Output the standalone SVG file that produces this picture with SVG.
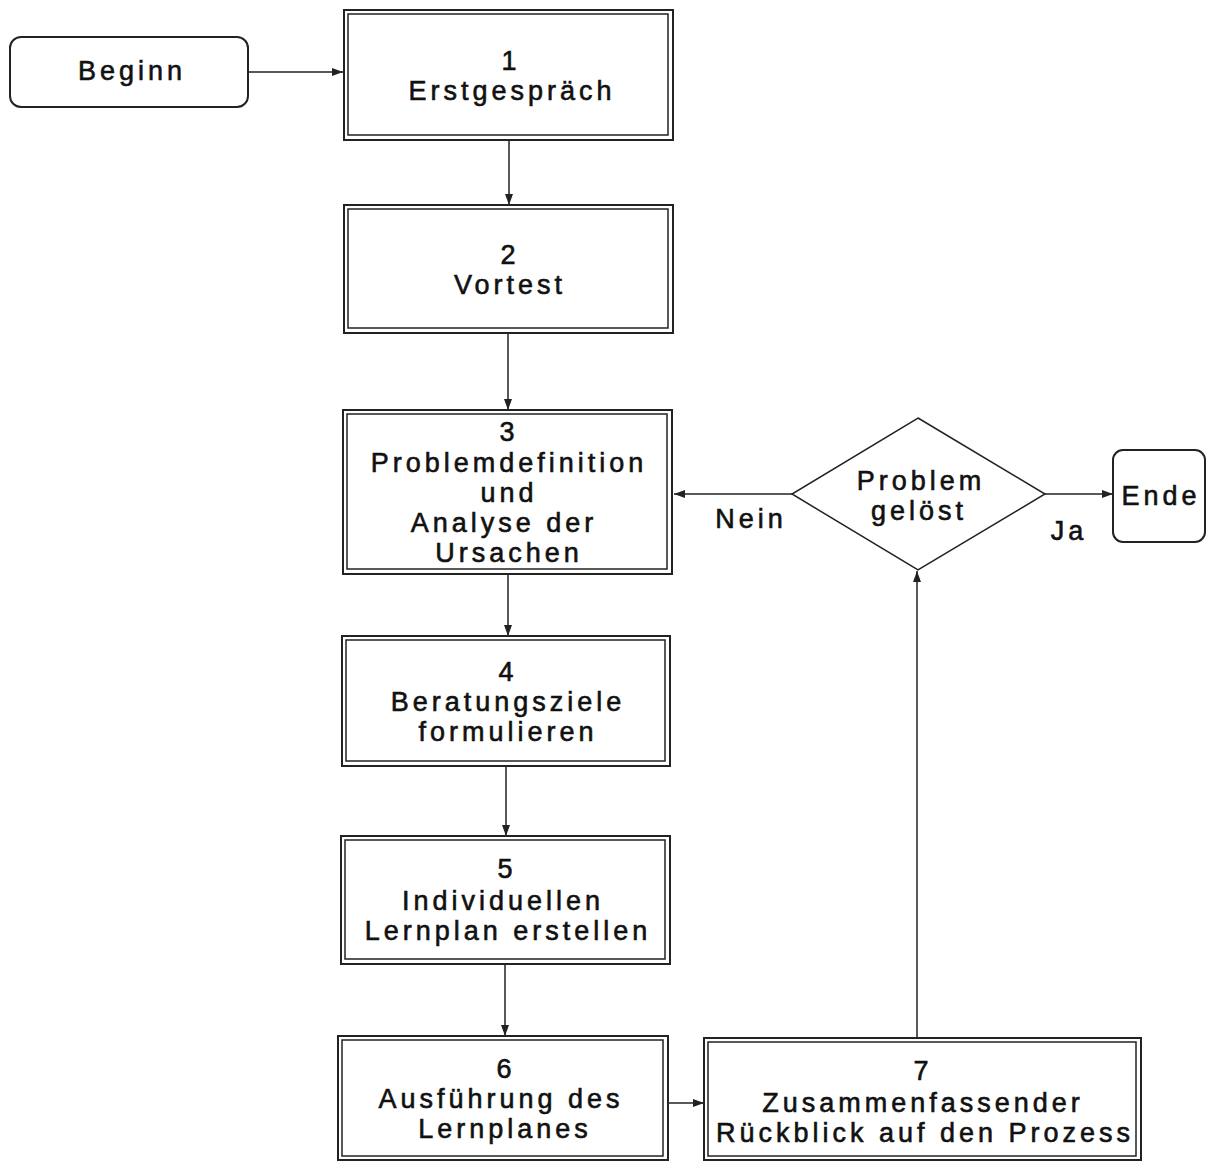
<svg xmlns="http://www.w3.org/2000/svg" width="1207" height="1162" viewBox="0 0 1207 1162">
<defs>
<style>
.o{fill:#fff;stroke:#222;stroke-width:2}
.i{fill:none;stroke:#222;stroke-width:1.5}
.t{font-family:"Liberation Sans",Arial,sans-serif;font-size:27px;letter-spacing:4px;fill:#111;text-anchor:middle;stroke:#111;stroke-width:0.6}
.c{stroke:#222;stroke-width:1.5;fill:none;marker-end:url(#ah)}
</style>
<marker id="ah" markerWidth="12" markerHeight="10" refX="11" refY="5" orient="auto" markerUnits="userSpaceOnUse">
<path d="M0,1 L11,5 L0,9 Z" fill="#222"/>
</marker>
</defs>
<rect width="1207" height="1162" fill="#fff"/>
<g id="connectors">
<line class="c" x1="248" y1="72" x2="343" y2="72"/>
<line class="c" x1="509" y1="140" x2="509" y2="205"/>
<line class="c" x1="508" y1="333" x2="508" y2="410"/>
<line class="c" x1="508" y1="574" x2="508" y2="636"/>
<line class="c" x1="506" y1="766" x2="506" y2="836"/>
<line class="c" x1="505" y1="964" x2="505" y2="1036"/>
<line class="c" x1="668" y1="1103" x2="704" y2="1103"/>
<line class="c" x1="917" y1="1038" x2="917" y2="571"/>
<line class="c" x1="792" y1="494" x2="674" y2="494"/>
<line class="c" x1="1045" y1="494" x2="1113" y2="494"/>
<text class="t" x="751" y="528">Nein</text>
<text class="t" x="1069" y="540">Ja</text>
</g>
<g id="beginn">
<rect class="o" x="10" y="37" width="238" height="70" rx="11"/>
<text class="t" x="132" y="80">Beginn</text>
</g>
<g id="n1">
<rect class="o" x="344" y="10" width="329" height="130"/>
<rect class="i" x="348" y="14" width="320" height="121"/>
<text class="t" x="511" y="70">1</text>
<text class="t" x="512" y="100">Erstgespräch</text>
</g>
<g id="n2">
<rect class="o" x="344" y="205" width="329" height="128"/>
<rect class="i" x="348" y="209" width="320" height="119"/>
<text class="t" x="510" y="264">2</text>
<text class="t" x="510" y="294">Vortest</text>
</g>
<g id="n3">
<rect class="o" x="343" y="410" width="329" height="164"/>
<rect class="i" x="347" y="414" width="320" height="155"/>
<text class="t" x="509" y="441">3</text>
<text class="t" x="509" y="472">Problemdefinition</text>
<text class="t" x="509" y="502">und</text>
<text class="t" x="504" y="532">Analyse der</text>
<text class="t" x="509" y="562">Ursachen</text>
</g>
<g id="n4">
<rect class="o" x="342" y="636" width="328" height="130"/>
<rect class="i" x="346" y="640" width="319" height="121"/>
<text class="t" x="508" y="681">4</text>
<text class="t" x="508" y="711">Beratungsziele</text>
<text class="t" x="508" y="741">formulieren</text>
</g>
<g id="n5">
<rect class="o" x="341" y="836" width="329" height="128"/>
<rect class="i" x="345" y="840" width="320" height="119"/>
<text class="t" x="507" y="878">5</text>
<text class="t" x="503" y="910">Individuellen</text>
<text class="t" x="508" y="940">Lernplan erstellen</text>
</g>
<g id="n6">
<rect class="o" x="338" y="1036" width="330" height="124"/>
<rect class="i" x="342" y="1040" width="321" height="116"/>
<text class="t" x="506" y="1078">6</text>
<text class="t" x="501" y="1108">Ausführung des</text>
<text class="t" x="505" y="1138">Lernplanes</text>
</g>
<g id="n7">
<rect class="o" x="704" y="1038" width="437" height="122"/>
<rect class="i" x="708" y="1042" width="428" height="114"/>
<text class="t" x="923" y="1080">7</text>
<text class="t" x="923" y="1112">Zusammenfassender</text>
<text class="t" x="925" y="1142">Rückblick auf den Prozess</text>
</g>
<g id="decision">
<polygon class="o" points="918,418 1045,494 918,570 792,494" style="stroke-width:1.5"/>
<text class="t" x="921" y="490">Problem</text>
<text class="t" x="919" y="520">gelöst</text>
</g>
<g id="ende">
<rect class="o" x="1113" y="450" width="92" height="92" rx="10"/>
<text class="t" x="1161" y="505">Ende</text>
</g>
</svg>
